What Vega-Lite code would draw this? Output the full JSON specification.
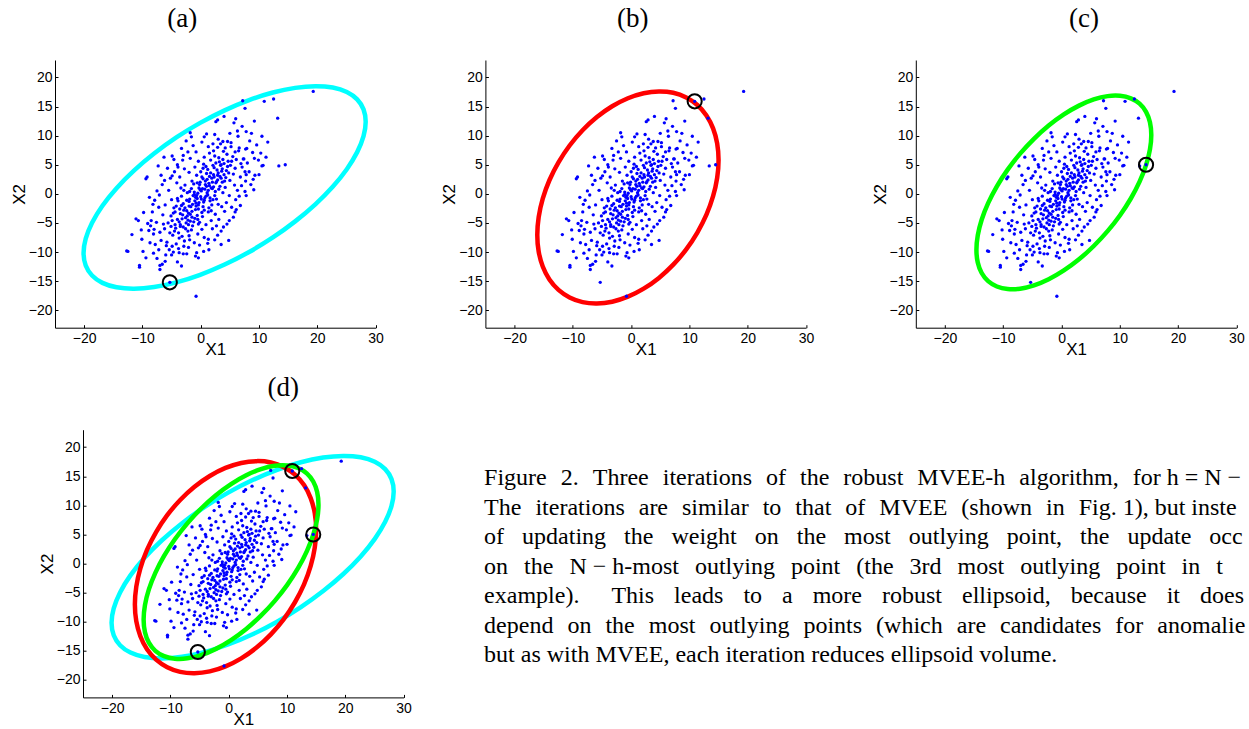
{
"$schema": "https://vega.github.io/schema/vega-lite/v6.json",
"background": "white",
"padding": {"left": 10, "top": 5, "right": 0, "bottom": 0},
"config": {
 "view": {"stroke": null},
 "axis": {"domainColor": "#000", "tickColor": "#000", "labelColor": "#000", "titleColor": "#000", "grid": false, "labelFont": "Liberation Sans", "titleFont": "Liberation Sans", "labelFontSize": 14, "titleFontSize": 17, "titleFontWeight": "normal", "tickSize": -3, "labelFlush": false, "domainWidth": 1, "tickWidth": 1},
 "axisX": {"labelPadding": 7, "titlePadding": -4},
 "axisY": {"labelPadding": 6, "titlePadding": 0},
 "title": {"font": "Liberation Serif", "fontSize": 27, "fontWeight": "normal", "color": "#000", "frame": "group", "baseline": "alphabetic", "anchor": "middle"}
},
"datasets": {
 "pts": [
{"x":-0.3,"y":1.0},{"x":2.1,"y":-1.0},{"x":-4.6,"y":-2.4},{"x":5.3,"y":5.6},{"x":-1.8,"y":-4.7},{"x":0.9,"y":4.7},{"x":3.7,"y":2.0},{"x":-6.2,"y":-6.0},{"x":1.5,"y":1.4},{"x":-2.9,"y":0.6},
{"x":0.4,"y":-2.2},{"x":-1.1,"y":0.3},{"x":2.8,"y":4.1},{"x":-3.5,"y":-5.3},{"x":4.2,"y":1.1},{"x":-0.8,"y":-1.6},{"x":1.9,"y":2.7},{"x":-5.1,"y":-3.8},{"x":3.1,"y":6.2},{"x":-2.4,"y":-2.9},
{"x":0.0,"y":-0.5},{"x":-1.5,"y":2.2},{"x":2.5,"y":0.4},{"x":-3.9,"y":-1.2},{"x":4.8,"y":3.6},{"x":-0.6,"y":-3.7},{"x":1.2,"y":-0.2},{"x":-2.2,"y":-6.4},{"x":3.4,"y":4.9},{"x":-4.3,"y":-5.9},
{"x":0.7,"y":0.8},{"x":-1.9,"y":-0.9},{"x":2.2,"y":3.3},{"x":-3.1,"y":-3.6},{"x":5.9,"y":4.4},{"x":-0.2,"y":-4.9},{"x":1.7,"y":5.8},{"x":-4.8,"y":-7.1},{"x":3.0,"y":-1.8},{"x":-2.7,"y":1.5},
{"x":0.2,"y":2.9},{"x":-0.9,"y":-2.7},{"x":2.6,"y":1.9},{"x":-3.3,"y":-0.4},{"x":4.5,"y":6.8},{"x":-1.4,"y":-5.5},{"x":1.0,"y":3.5},{"x":-5.6,"y":-5.0},{"x":3.8,"y":0.2},{"x":-2.0,"y":-1.3},
{"x":-0.5,"y":0.1},{"x":1.3,"y":-3.1},{"x":-2.6,"y":-4.1},{"x":4.0,"y":5.2},{"x":-1.2,"y":1.7},{"x":0.6,"y":-1.1},{"x":2.9,"y":2.4},{"x":-3.7,"y":-7.6},{"x":5.0,"y":2.3},{"x":-4.0,"y":-0.8},
{"x":0.3,"y":-3.9},{"x":-1.7,"y":-2.2},{"x":2.4,"y":6.5},{"x":-3.0,"y":-5.7},{"x":6.1,"y":5.9},{"x":-0.1,"y":2.0},{"x":1.6,"y":-0.7},{"x":-5.3,"y":-6.7},{"x":3.6,"y":3.9},{"x":-2.3,"y":0.2},
{"x":0.8,"y":1.6},{"x":-1.0,"y":-4.2},{"x":2.0,"y":0.9},{"x":-4.4,"y":-3.1},{"x":4.6,"y":4.7},{"x":-0.7,"y":3.2},{"x":1.4,"y":-2.4},{"x":-2.8,"y":-8.1},{"x":3.3,"y":1.3},{"x":-3.6,"y":-2.6},
{"x":-0.4,"y":-1.9},{"x":1.1,"y":2.5},{"x":-2.1,"y":-3.3},{"x":5.5,"y":6.4},{"x":-1.3,"y":-0.3},{"x":0.5,"y":5.1},{"x":2.7,"y":-0.9},{"x":-4.9,"y":-4.6},{"x":3.9,"y":7.3},{"x":-2.5,"y":-5.0},
{"x":0.1,"y":0.5},{"x":-1.6,"y":-6.2},{"x":2.3,"y":4.5},{"x":-3.4,"y":1.0},{"x":4.3,"y":2.8},{"x":-0.9,"y":-0.6},{"x":1.8,"y":1.0},{"x":-5.8,"y":-8.3},{"x":3.2,"y":5.5},{"x":-2.0,"y":-7.2},
{"x":6.6,"y":7.9},{"x":5.8,"y":1.5},{"x":7.1,"y":4.6},{"x":6.3,"y":0.6},{"x":4.9,"y":-0.3},{"x":7.4,"y":6.0},{"x":5.2,"y":8.1},{"x":6.8,"y":2.9},{"x":4.4,"y":-1.5},{"x":5.6,"y":3.4},
{"x":-6.5,"y":-3.6},{"x":-5.9,"y":-8.9},{"x":-7.0,"y":-6.6},{"x":-6.1,"y":-1.9},{"x":-7.6,"y":-4.9},{"x":-5.4,"y":-9.6},{"x":-6.8,"y":-8.0},{"x":-4.7,"y":-10.0},{"x":-5.0,"y":-1.0},{"x":-6.4,"y":-5.2},
{"x":-4.2,"y":-8.6},{"x":-3.8,"y":-9.4},{"x":-2.9,"y":-9.0},{"x":-3.2,"y":-7.3},{"x":-1.9,"y":-7.9},{"x":-1.1,"y":-8.4},{"x":-0.5,"y":-6.9},{"x":0.2,"y":-6.1},{"x":0.9,"y":-5.3},{"x":1.8,"y":-4.6},
{"x":2.5,"y":-3.5},{"x":3.1,"y":-4.4},{"x":3.6,"y":-2.2},{"x":4.1,"y":-3.0},{"x":-0.2,"y":-8.8},{"x":0.6,"y":-7.5},{"x":2.0,"y":-6.0},{"x":2.7,"y":-5.5},{"x":-2.4,"y":-10.3},{"x":-4.5,"y":-6.4},
{"x":3.4,"y":8.6},{"x":2.2,"y":7.4},{"x":1.5,"y":7.0},{"x":0.6,"y":6.3},{"x":-0.4,"y":5.6},{"x":-1.0,"y":4.6},{"x":-2.0,"y":3.7},{"x":-2.8,"y":4.3},{"x":-3.6,"y":2.9},{"x":-4.1,"y":1.9},
{"x":4.6,"y":9.0},{"x":3.0,"y":9.4},{"x":1.3,"y":8.1},{"x":-0.8,"y":7.2},{"x":-1.8,"y":6.1},{"x":-3.1,"y":5.8},{"x":-4.5,"y":3.8},{"x":2.9,"y":8.0},{"x":4.2,"y":7.9},{"x":5.9,"y":7.2},
{"x":-5.5,"y":0.6},{"x":-6.6,"y":1.6},{"x":-5.2,"y":2.7},{"x":-7.9,"y":-1.1},{"x":-8.3,"y":-3.1},{"x":-7.2,"y":-2.3},{"x":-8.6,"y":-5.5},{"x":-8.1,"y":-6.9},{"x":-7.8,"y":-8.7},{"x":-6.0,"y":-10.5},
{"x":6.0,"y":-1.0},{"x":7.0,"y":1.4},{"x":7.7,"y":2.2},{"x":5.3,"y":-2.3},{"x":6.9,"y":5.2},{"x":7.9,"y":7.8},{"x":8.3,"y":3.8},{"x":6.4,"y":9.9},{"x":5.0,"y":10.4},{"x":8.0,"y":5.3},
{"x":0.3,"y":0.9},{"x":-0.6,"y":-0.8},{"x":1.4,"y":1.8},{"x":-1.4,"y":-1.8},{"x":0.9,"y":-0.4},{"x":-0.2,"y":1.6},{"x":2.0,"y":2.0},{"x":-2.0,"y":-2.1},{"x":1.1,"y":0.2},{"x":-1.1,"y":-0.1},
{"x":0.5,"y":-1.4},{"x":-0.4,"y":-2.6},{"x":1.7,"y":3.6},{"x":-1.8,"y":-3.5},{"x":2.9,"y":3.2},{"x":-2.9,"y":-2.8},{"x":0.0,"y":3.8},{"x":0.2,"y":-3.2},{"x":3.5,"y":2.7},{"x":-3.5,"y":-3.4},
{"x":1.9,"y":-1.9},{"x":-1.6,"y":0.9},{"x":2.4,"y":-0.3},{"x":-2.4,"y":-1.1},{"x":3.1,"y":0.8},{"x":-3.0,"y":-1.7},{"x":0.8,"y":2.2},{"x":-0.8,"y":-2.1},{"x":4.0,"y":3.3},{"x":-4.0,"y":-4.4},
{"x":1.2,"y":4.2},{"x":-1.2,"y":-4.8},{"x":2.6,"y":5.3},{"x":-2.6,"y":-6.0},{"x":3.8,"y":5.9},{"x":-3.8,"y":-6.7},{"x":0.4,"y":4.4},{"x":-0.4,"y":-5.2},{"x":5.1,"y":4.9},{"x":-5.1,"y":-5.6},
{"x":1.6,"y":-1.2},{"x":-1.5,"y":-3.0},{"x":2.2,"y":1.2},{"x":-2.2,"y":-4.5},{"x":3.3,"y":3.0},{"x":-3.3,"y":-2.0},{"x":4.4,"y":4.0},{"x":-4.4,"y":-5.3},{"x":0.1,"y":-0.9},{"x":-0.1,"y":0.7},
{"x":1.0,"y":1.3},{"x":-1.0,"y":-1.2},{"x":2.3,"y":2.9},{"x":-2.3,"y":-3.8},{"x":3.7,"y":4.3},{"x":-3.7,"y":-4.8},{"x":4.7,"y":5.6},{"x":-4.7,"y":-3.3},{"x":0.6,"y":-2.8},{"x":-0.6,"y":1.9},
{"x":1.3,"y":0.6},{"x":-0.3,"y":-1.5},{"x":2.7,"y":2.1},{"x":-2.7,"y":-2.4},{"x":3.0,"y":3.6},{"x":-3.2,"y":-4.3},{"x":1.5,"y":3.0},{"x":-1.5,"y":-4.0},{"x":0.7,"y":-0.7},{"x":-0.7,"y":-0.3},
{"x":2.1,"y":4.9},{"x":-2.1,"y":-5.3},{"x":4.1,"y":2.2},{"x":-4.2,"y":-2.1},{"x":1.8,"y":-2.9},{"x":-1.9,"y":0.4},{"x":0.4,"y":2.6},{"x":-0.5,"y":-4.4},{"x":3.5,"y":5.0},{"x":-3.5,"y":-5.6},
{"x":-7.5,"y":0.5},{"x":-6.8,"y":3.2},{"x":-5.7,"y":4.4},{"x":-4.6,"y":5.9},{"x":-3.3,"y":7.8},{"x":-2.5,"y":9.1},{"x":-8.2,"y":-1.8},{"x":-7.1,"y":-0.2},{"x":-6.2,"y":2.3},{"x":-4.9,"y":3.1},
{"x":-3.9,"y":4.6},{"x":-3.0,"y":6.6},{"x":-1.3,"y":8.3},{"x":0.2,"y":8.9},{"x":1.0,"y":10.3},{"x":6.8,"y":-2.0},{"x":5.6,"y":-4.0},{"x":4.5,"y":-5.2},{"x":3.5,"y":-6.4},{"x":2.4,"y":-7.9},
{"x":1.4,"y":-9.6},{"x":7.6,"y":0.4},{"x":6.6,"y":-0.4},{"x":5.9,"y":-3.1},{"x":4.9,"y":-4.6},{"x":3.9,"y":-5.7},{"x":2.9,"y":-7.1},{"x":0.5,"y":-9.9},{"x":-0.4,"y":-11.0},{"x":8.6,"y":1.6},
{"x":-9.8,"y":-3.2},{"x":-9.1,"y":-5.1},{"x":-10.2,"y":-6.2},{"x":-8.7,"y":-8.4},{"x":-9.4,"y":-11.0},{"x":-8.1,"y":-10.2},{"x":-7.2,"y":-9.6},{"x":-6.6,"y":-12.1},{"x":-4.0,"y":-11.7},{"x":-3.3,"y":-12.4},
{"x":8.9,"y":7.1},{"x":9.6,"y":8.4},{"x":8.4,"y":9.1},{"x":9.9,"y":5.8},{"x":8.7,"y":10.4},{"x":7.1,"y":11.6},{"x":6.0,"y":12.9},{"x":10.3,"y":7.0},{"x":11.2,"y":6.3},{"x":9.0,"y":2.5},
{"x":19.3,"y":17.6},{"x":7.2,"y":16.0},{"x":10.9,"y":15.9},{"x":12.5,"y":16.3},{"x":7.6,"y":14.7},{"x":13.2,"y":13.0},{"x":5.7,"y":12.2},{"x":9.2,"y":12.5},{"x":2.6,"y":12.4},{"x":2.9,"y":12.7},
{"x":4.0,"y":13.3},{"x":10.5,"y":9.9},{"x":11.5,"y":8.9},{"x":6.3,"y":10.8},{"x":7.8,"y":10.7},{"x":-1.8,"y":10.5},{"x":-1.6,"y":9.8},{"x":0.6,"y":9.8},{"x":2.4,"y":10.2},{"x":13.4,"y":4.8},
{"x":14.5,"y":5.0},{"x":10.5,"y":4.8},{"x":10.7,"y":4.9},{"x":9.2,"y":6.1},{"x":9.3,"y":3.2},{"x":10.0,"y":3.3},{"x":7.8,"y":3.3},{"x":9.1,"y":0.7},{"x":7.8,"y":-0.3},{"x":6.1,"y":-2.7},
{"x":4.8,"y":-8.0},{"x":3.5,"y":-8.7},{"x":-9.4,"y":2.6},{"x":-9.2,"y":2.9},{"x":-8.8,"y":-0.6},{"x":-7.3,"y":4.8},{"x":-6.3,"y":6.3},{"x":-4.9,"y":6.5},{"x":-11.1,"y":-4.3},{"x":-10.7,"y":-4.6},
{"x":-11.8,"y":-7.0},{"x":-12.7,"y":-9.8},{"x":-12.5,"y":-9.9},{"x":-10.1,"y":-7.8},{"x":-9.9,"y":-9.9},{"x":-10.5,"y":-12.3},{"x":-10.5,"y":-12.6},{"x":-7.5,"y":-11.1},{"x":-7.0,"y":-12.3},{"x":-7.0,"y":-13.0},
{"x":-5.3,"y":-15.2},{"x":-0.8,"y":-17.6},{"x":-0.9,"y":-10.7},{"x":-0.7,"y":-10.1},{"x":-3.0,"y":-10.3},{"x":-3.7,"y":-10.1},{"x":-5.0,"y":-10.5},{"x":-2.1,"y":-9.2},{"x":1.2,"y":-8.5},{"x":1.3,"y":-7.8},
{"x":7.7,"y":7.7},{"x":7.3,"y":6.0},{"x":6.5,"y":7.4},{"x":7.6,"y":3.8},{"x":5.2,"y":8.8},{"x":3.8,"y":9.0},{"x":2.1,"y":8.6},{"x":-2.2,"y":7.2},{"x":-4.0,"y":5.0},{"x":-8.5,"y":-4.6},
{"x":-8.0,"y":-6.1},{"x":-8.9,"y":-6.3},{"x":-6.1,"y":-11.6},{"x":-4.9,"y":-9.0}
 ],
 "ell": [
{"e":"cyan","t":0,"x":28.3,"y":12.38},{"e":"cyan","t":10,"x":27.93,"y":14.51},{"e":"cyan","t":20,"x":26.84,"y":16.23},{"e":"cyan","t":30,"x":25.06,"y":17.5},{"e":"cyan","t":40,"x":22.64,"y":18.26},{"e":"cyan","t":50,"x":19.66,"y":18.5},{"e":"cyan","t":60,"x":16.2,"y":18.21},{"e":"cyan","t":70,"x":12.38,"y":17.41},{"e":"cyan","t":80,"x":8.3,"y":16.11},{"e":"cyan","t":90,"x":4.1,"y":14.35},{"e":"cyan","t":100,"x":-0.1,"y":12.19},{"e":"cyan","t":110,"x":-4.18,"y":9.69},{"e":"cyan","t":120,"x":-8.0,"y":6.93},{"e":"cyan","t":130,"x":-11.46,"y":4.0},{"e":"cyan","t":140,"x":-14.44,"y":0.98},{"e":"cyan","t":150,"x":-16.86,"y":-2.04},{"e":"cyan","t":160,"x":-18.64,"y":-4.97},{"e":"cyan","t":170,"x":-19.73,"y":-7.71},{"e":"cyan","t":180,"x":-20.1,"y":-10.18},{"e":"cyan","t":190,"x":-19.73,"y":-12.31},{"e":"cyan","t":200,"x":-18.64,"y":-14.03},{"e":"cyan","t":210,"x":-16.86,"y":-15.3},{"e":"cyan","t":220,"x":-14.44,"y":-16.06},{"e":"cyan","t":230,"x":-11.46,"y":-16.3},{"e":"cyan","t":240,"x":-8.0,"y":-16.01},{"e":"cyan","t":250,"x":-4.18,"y":-15.21},{"e":"cyan","t":260,"x":-0.1,"y":-13.91},{"e":"cyan","t":270,"x":4.1,"y":-12.15},{"e":"cyan","t":280,"x":8.3,"y":-9.99},{"e":"cyan","t":290,"x":12.38,"y":-7.49},{"e":"cyan","t":300,"x":16.2,"y":-4.73},{"e":"cyan","t":310,"x":19.66,"y":-1.8},{"e":"cyan","t":320,"x":22.64,"y":1.22},{"e":"cyan","t":330,"x":25.06,"y":4.24},{"e":"cyan","t":340,"x":26.84,"y":7.17},{"e":"cyan","t":350,"x":27.93,"y":9.91},
{"e":"red","t":0,"x":15.0,"y":5.81},{"e":"red","t":10,"x":14.76,"y":8.67},{"e":"red","t":20,"x":14.06,"y":11.25},{"e":"red","t":30,"x":12.92,"y":13.48},{"e":"red","t":40,"x":11.36,"y":15.27},{"e":"red","t":50,"x":9.45,"y":16.57},{"e":"red","t":60,"x":7.23,"y":17.37},{"e":"red","t":70,"x":4.77,"y":17.6},{"e":"red","t":80,"x":2.15,"y":17.29},{"e":"red","t":90,"x":-0.55,"y":16.43},{"e":"red","t":100,"x":-3.25,"y":15.05},{"e":"red","t":110,"x":-5.87,"y":13.2},{"e":"red","t":120,"x":-8.33,"y":10.93},{"e":"red","t":130,"x":-10.55,"y":8.31},{"e":"red","t":140,"x":-12.46,"y":5.41},{"e":"red","t":150,"x":-14.02,"y":2.34},{"e":"red","t":160,"x":-15.16,"y":-0.83},{"e":"red","t":170,"x":-15.86,"y":-3.99},{"e":"red","t":180,"x":-16.1,"y":-7.05},{"e":"red","t":190,"x":-15.86,"y":-9.91},{"e":"red","t":200,"x":-15.16,"y":-12.49},{"e":"red","t":210,"x":-14.02,"y":-14.72},{"e":"red","t":220,"x":-12.46,"y":-16.51},{"e":"red","t":230,"x":-10.55,"y":-17.81},{"e":"red","t":240,"x":-8.33,"y":-18.61},{"e":"red","t":250,"x":-5.87,"y":-18.84},{"e":"red","t":260,"x":-3.25,"y":-18.53},{"e":"red","t":270,"x":-0.55,"y":-17.67},{"e":"red","t":280,"x":2.15,"y":-16.29},{"e":"red","t":290,"x":4.77,"y":-14.44},{"e":"red","t":300,"x":7.23,"y":-12.17},{"e":"red","t":310,"x":9.45,"y":-9.55},{"e":"red","t":320,"x":11.36,"y":-6.65},{"e":"red","t":330,"x":12.92,"y":-3.58},{"e":"red","t":340,"x":14.06,"y":-0.41},{"e":"red","t":350,"x":14.76,"y":2.75},
{"e":"green","t":0,"x":15.4,"y":10.12},{"e":"green","t":10,"x":15.17,"y":12.3},{"e":"green","t":20,"x":14.5,"y":14.1},{"e":"green","t":30,"x":13.39,"y":15.5},{"e":"green","t":40,"x":11.89,"y":16.42},{"e":"green","t":50,"x":10.04,"y":16.85},{"e":"green","t":60,"x":7.9,"y":16.79},{"e":"green","t":70,"x":5.53,"y":16.22},{"e":"green","t":80,"x":3.0,"y":15.16},{"e":"green","t":90,"x":0.4,"y":13.65},{"e":"green","t":100,"x":-2.2,"y":11.74},{"e":"green","t":110,"x":-4.73,"y":9.46},{"e":"green","t":120,"x":-7.1,"y":6.91},{"e":"green","t":130,"x":-9.24,"y":4.17},{"e":"green","t":140,"x":-11.09,"y":1.3},{"e":"green","t":150,"x":-12.59,"y":-1.6},{"e":"green","t":160,"x":-13.7,"y":-4.44},{"e":"green","t":170,"x":-14.37,"y":-7.14},{"e":"green","t":180,"x":-14.6,"y":-9.62},{"e":"green","t":190,"x":-14.37,"y":-11.8},{"e":"green","t":200,"x":-13.7,"y":-13.6},{"e":"green","t":210,"x":-12.59,"y":-15.0},{"e":"green","t":220,"x":-11.09,"y":-15.92},{"e":"green","t":230,"x":-9.24,"y":-16.35},{"e":"green","t":240,"x":-7.1,"y":-16.29},{"e":"green","t":250,"x":-4.73,"y":-15.72},{"e":"green","t":260,"x":-2.2,"y":-14.66},{"e":"green","t":270,"x":0.4,"y":-13.15},{"e":"green","t":280,"x":3.0,"y":-11.24},{"e":"green","t":290,"x":5.53,"y":-8.96},{"e":"green","t":300,"x":7.9,"y":-6.41},{"e":"green","t":310,"x":10.04,"y":-3.67},{"e":"green","t":320,"x":11.89,"y":-0.8},{"e":"green","t":330,"x":13.39,"y":2.1},{"e":"green","t":340,"x":14.5,"y":4.94},{"e":"green","t":350,"x":15.17,"y":7.64}
 ],
 "circ": [{"p":"a","x":-5.3,"y":-15.2},{"p":"b","x":10.9,"y":15.9},{"p":"c","x":14.5,"y":5.0}],
 "cap": [
  {"i":0,"s":"Figure \u20042. \u2004Three \u2004iterations \u2004of \u2004the \u2004robust \u2004MVEE-h \u2004algorithm, \u2004for h = N −"},
  {"i":1,"s":"The \u2004iterations \u2004are \u2004similar \u2004to \u2004that \u2004of \u2004MVEE \u2004(shown \u2004in \u2004Fig. 1), but inste"},
  {"i":2,"s":"of \u2002updating \u2002the \u2002weight \u2002on \u2002the \u2002most \u2002outlying \u2002point, \u2002the \u2002update \u2002occ"},
  {"i":3,"s":"on\u2002\u2006the\u2002\u2006N − h-most\u2002\u2006outlying\u2002\u2006point\u2002\u2006(the\u2002\u20063rd\u2002\u2006most\u2002\u2006outlying\u2002\u2006point\u2002\u2006in\u2002\u2006t"},
  {"i":4,"s":"example).\u2002\u2004\u2002This\u2002\u2004leads\u2002\u2004to\u2002\u2004a\u2002\u2004more\u2002\u2004robust\u2002\u2004ellipsoid,\u2002\u2004because\u2002\u2004it\u2002\u2004does"},
  {"i":5,"s":"depend \u2004on \u2004the \u2004most \u2004outlying \u2004points \u2004(which \u2004are \u2004candidates \u2004for \u2004anomalie"},
  {"i":6,"s":"but as with MVEE, each iteration reduces ellipsoid volume."}
 ]
},
"bounds": "flush",
"spacing": 369.7,
"vconcat": [
 {"bounds": "flush", "spacing": 109.4, "hconcat": [
  {"width": 320.6, "height": 267.7, "title": {"text": "(a)", "dx": -33, "offset": 27},
   "encoding": {"x": {"field": "x", "type": "quantitative", "scale": {"domain": [-25, 30], "nice": false, "zero": false}, "axis": {"title": "X1", "values": [-20, -10, 0, 10, 20, 30]}}, "y": {"field": "y", "type": "quantitative", "scale": {"domain": [-23, 23], "nice": false, "zero": false}, "axis": {"title": "X2", "values": [-20, -15, -10, -5, 0, 5, 10, 15, 20]}}},
   "layer": [
    {"data": {"name": "ell"}, "transform": [{"filter": "datum.e === 'cyan'"}], "mark": {"type": "line", "interpolate": "cardinal-closed", "strokeWidth": 4.5, "color": "#00ffff"}, "encoding": {"order": {"field": "t", "type": "quantitative"}}},
    {"data": {"name": "pts"}, "mark": {"type": "circle", "size": 11, "color": "#0000ff", "opacity": 1}},
    {"data": {"name": "circ"}, "transform": [{"filter": "datum.p === 'a'"}], "mark": {"type": "point", "shape": "circle", "filled": false, "stroke": "#000", "strokeWidth": 2, "size": 200, "opacity": 1}}
   ]},
  {"width": 320.6, "height": 267.7, "title": {"text": "(b)", "dx": -13, "offset": 27},
   "encoding": {"x": {"field": "x", "type": "quantitative", "scale": {"domain": [-25, 30], "nice": false, "zero": false}, "axis": {"title": "X1", "values": [-20, -10, 0, 10, 20, 30]}}, "y": {"field": "y", "type": "quantitative", "scale": {"domain": [-23, 23], "nice": false, "zero": false}, "axis": {"title": "X2", "values": [-20, -15, -10, -5, 0, 5, 10, 15, 20]}}},
   "layer": [
    {"data": {"name": "ell"}, "transform": [{"filter": "datum.e === 'red'"}], "mark": {"type": "line", "interpolate": "cardinal-closed", "strokeWidth": 4.5, "color": "#ff0000"}, "encoding": {"order": {"field": "t", "type": "quantitative"}}},
    {"data": {"name": "pts"}, "mark": {"type": "circle", "size": 11, "color": "#0000ff", "opacity": 1}},
    {"data": {"name": "circ"}, "transform": [{"filter": "datum.p === 'b'"}], "mark": {"type": "point", "shape": "circle", "filled": false, "stroke": "#000", "strokeWidth": 2, "size": 200, "opacity": 1}}
   ]},
  {"width": 320.6, "height": 267.7, "title": {"text": "(c)", "dx": 8, "offset": 27},
   "encoding": {"x": {"field": "x", "type": "quantitative", "scale": {"domain": [-25, 30], "nice": false, "zero": false}, "axis": {"title": "X1", "values": [-20, -10, 0, 10, 20, 30]}}, "y": {"field": "y", "type": "quantitative", "scale": {"domain": [-23, 23], "nice": false, "zero": false}, "axis": {"title": "X2", "values": [-20, -15, -10, -5, 0, 5, 10, 15, 20]}}},
   "layer": [
    {"data": {"name": "ell"}, "transform": [{"filter": "datum.e === 'green'"}], "mark": {"type": "line", "interpolate": "cardinal-closed", "strokeWidth": 4.5, "color": "#00ff00"}, "encoding": {"order": {"field": "t", "type": "quantitative"}}},
    {"data": {"name": "pts"}, "mark": {"type": "circle", "size": 11, "color": "#0000ff", "opacity": 1}},
    {"data": {"name": "circ"}, "transform": [{"filter": "datum.p === 'c'"}], "mark": {"type": "point", "shape": "circle", "filled": false, "stroke": "#000", "strokeWidth": 2, "size": 200, "opacity": 1}}
   ]}
 ]},
 {"bounds": "flush", "spacing": 0, "hconcat": [
  {"width": 27.3, "height": 10, "data": {"values": []}, "mark": "point"},
  {"bounds": "flush", "spacing": 80.1, "hconcat": [
   {"width": 320.6, "height": 267.7, "title": {"text": "(d)", "dx": 40, "offset": 28},
    "encoding": {"x": {"field": "x", "type": "quantitative", "scale": {"domain": [-25, 30], "nice": false, "zero": false}, "axis": {"title": "X1", "values": [-20, -10, 0, 10, 20, 30]}}, "y": {"field": "y", "type": "quantitative", "scale": {"domain": [-23, 23], "nice": false, "zero": false}, "axis": {"title": "X2", "values": [-20, -15, -10, -5, 0, 5, 10, 15, 20]}}},
    "layer": [
     {"data": {"name": "ell"}, "transform": [{"filter": "datum.e === 'cyan'"}], "mark": {"type": "line", "interpolate": "cardinal-closed", "strokeWidth": 4.5, "color": "#00ffff"}, "encoding": {"order": {"field": "t", "type": "quantitative"}}},
     {"data": {"name": "ell"}, "transform": [{"filter": "datum.e === 'red'"}], "mark": {"type": "line", "interpolate": "cardinal-closed", "strokeWidth": 4.5, "color": "#ff0000"}, "encoding": {"order": {"field": "t", "type": "quantitative"}}},
     {"data": {"name": "ell"}, "transform": [{"filter": "datum.e === 'green'"}], "mark": {"type": "line", "interpolate": "cardinal-closed", "strokeWidth": 4.5, "color": "#00ff00"}, "encoding": {"order": {"field": "t", "type": "quantitative"}}},
     {"data": {"name": "pts"}, "mark": {"type": "circle", "size": 11, "color": "#0000ff", "opacity": 1}},
     {"data": {"name": "circ"}, "mark": {"type": "point", "shape": "circle", "filled": false, "stroke": "#000", "strokeWidth": 2, "size": 200, "opacity": 1}}
    ]},
   {"width": 760, "height": 265.5, "data": {"name": "cap"},
    "mark": {"type": "text", "align": "left", "baseline": "middle", "font": "Liberation Serif", "fontSize": 24, "limit": 766, "ellipsis": "\u200b", "color": "#000"},
    "encoding": {"x": {"datum": 0, "type": "quantitative", "scale": {"domain": [0, 1]}, "axis": null}, "y": {"field": "i", "type": "quantitative", "scale": {"domain": [-1.64, 7.36], "reverse": true, "nice": false, "zero": false}, "axis": null}, "text": {"field": "s"}}}
  ]}
 ]}
]
}
